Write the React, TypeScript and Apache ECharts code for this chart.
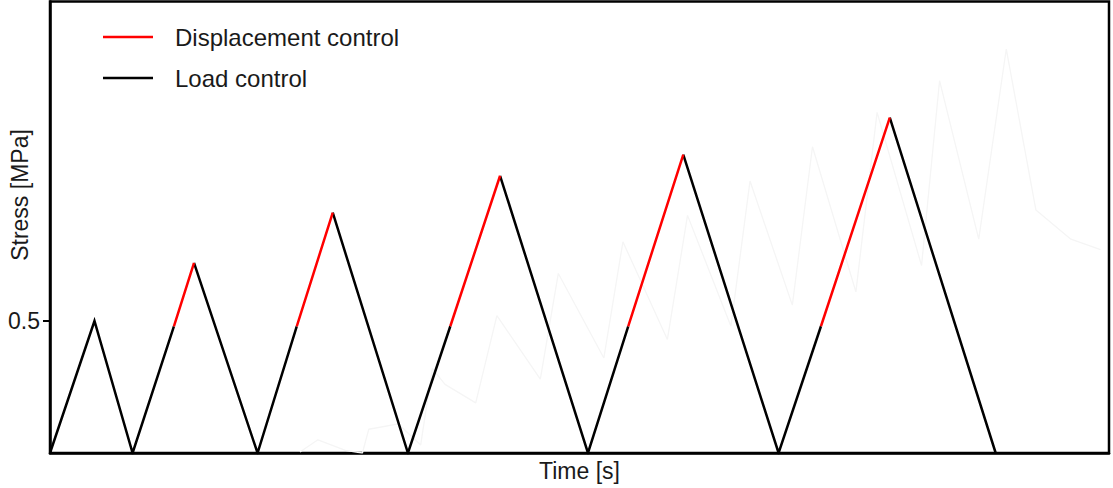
import React, { useEffect, useRef } from "react";
import * as echarts from "echarts";

// Time [s] and Stress [MPa] values
const loadTime = [0, 4.2, 7.8, 11.7, 13.6, 19.6, 23.3, 26.7, 33.8, 37.8, 42.5, 50.8, 54.6, 59.8, 68.8, 72.8, 79.3, 89.3];
const loadStress = [0, 0.5, 0, 0.48, 0.72, 0, 0.48, 0.91, 0, 0.48, 1.05, 0, 0.48, 1.13, 0, 0.48, 1.27, 0];

// displacement-controlled segments: [startTime, endTime], [startStress, endStress]
const dispStartTime = [11.7, 23.3, 37.8, 54.6, 72.8];
const dispEndTime = [13.6, 26.7, 42.5, 59.8, 79.3];
const dispStartStress = [0.48, 0.48, 0.48, 0.48, 0.48];
const dispEndStress = [0.72, 0.91, 1.05, 1.13, 1.27];

// faint background trace
const ghostTime = [23.6, 25.3, 27.9, 29.5, 30.1, 32.9, 35.0, 36.1, 37.3, 40.2, 42.2, 46.3, 48.0, 52.3, 54.1, 58.3, 60.2, 64.3, 66.1, 70.1, 72.0, 76.1, 78.1, 82.3, 84.0, 87.7, 90.3, 93.1, 96.4, 99.2];
const ghostStress = [0.004, 0.05, 0.01, 0.0, 0.09, 0.11, 0.03, 0.32, 0.26, 0.19, 0.52, 0.28, 0.68, 0.36, 0.8, 0.43, 0.9, 0.48, 1.03, 0.56, 1.16, 0.61, 1.29, 0.71, 1.41, 0.81, 1.53, 0.92, 0.81, 0.77];

const yTickValues = [0.5];
const seriesNames = ["Displacement control", "Load control"];

const FONT = "'Liberation Sans', Arial, sans-serif";

export default function App() {
  const ref = useRef<HTMLDivElement>(null);

  useEffect(() => {
    if (!ref.current) return;
    const chart = echarts.init(ref.current, undefined, { renderer: "svg" });

    // load-control path, broken where displacement control takes over
    const loadData: any[] = [];
    loadTime.forEach((t, i) => {
      loadData.push([t, loadStress[i]]);
      if (dispStartTime.indexOf(t) >= 0) loadData.push([t, "-"]);
    });
    const dispData: any[] = [];
    dispStartTime.forEach((t, i) => {
      if (i > 0) dispData.push([t, "-"]);
      dispData.push([t, dispStartStress[i]]);
      dispData.push([dispEndTime[i], dispEndStress[i]]);
    });
    const ghostData = ghostTime.map((t, i) => [t, ghostStress[i]]);

    chart.setOption({
      animation: false,
      textStyle: { fontFamily: FONT },
      grid: {
        left: 50,
        right: 4,
        top: 1.5,
        bottom: 35,
        show: true,
        borderColor: "#000",
        borderWidth: 2.5,
        backgroundColor: "#fff",
      },
      legend: {
        data: seriesNames,
        orient: "vertical",
        left: 103,
        top: 25,
        padding: 0,
        itemWidth: 50,
        itemHeight: 2.5,
        itemGap: 17,
        icon: "rect",
        textStyle: {
          fontFamily: FONT,
          fontSize: 24,
          color: "#1a1a1a",
          padding: [0, 0, 0, 17],
        },
        selectedMode: false,
      },
      xAxis: {
        type: "value",
        min: 0,
        max: 100,
        name: "Time [s]",
        nameLocation: "middle",
        nameGap: 6,
        nameTextStyle: { fontFamily: FONT, fontSize: 23, color: "#1a1a1a", verticalAlign: "top" },
        axisLine: { show: true, lineStyle: { color: "#000", width: 2.5 } },
        axisTick: { show: false },
        axisLabel: { show: false },
        splitLine: { show: false },
      },
      yAxis: {
        type: "value",
        min: 0,
        max: 1.71,
        axisLine: { show: true, lineStyle: { color: "#000", width: 2.5 } },
        axisTick: { show: true, length: 7, customValues: yTickValues, lineStyle: { color: "#000", width: 2 } },
        axisLabel: {
          show: true,
          customValues: yTickValues,
          margin: 10,
          fontFamily: FONT,
          fontSize: 23,
          color: "#1a1a1a",
        },
        splitLine: { show: false },
      },
      graphic: [
        {
          type: "text",
          x: 20,
          y: 195,
          rotation: Math.PI / 2,
          style: {
            text: "Stress [MPa]",
            fontFamily: FONT,
            fontSize: 23,
            fill: "#1a1a1a",
            align: "center",
            verticalAlign: "middle",
          },
        },
      ],
      series: [
        {
          name: "ghost",
          type: "line",
          data: ghostData,
          symbol: "none",
          silent: true,
          lineStyle: { color: "#f5f5f5", width: 1.3 },
          z: 1,
        },
        {
          name: "Load control",
          type: "line",
          data: loadData,
          symbol: "none",
          connectNulls: false,
          color: "#000",
          lineStyle: { color: "#000", width: 2.5, join: "miter" },
          z: 2,
        },
        {
          name: "Displacement control",
          type: "line",
          data: dispData,
          symbol: "none",
          connectNulls: false,
          color: "#ff0000",
          lineStyle: { color: "#ff0000", width: 2.5 },
          z: 3,
        },
      ],
    });

    return () => chart.dispose();
  }, []);

  return (
    <div
      ref={ref}
      style={{ position: "absolute", left: 0, top: 0, width: 1113, height: 488, background: "#fff" }}
    />
  );
}
